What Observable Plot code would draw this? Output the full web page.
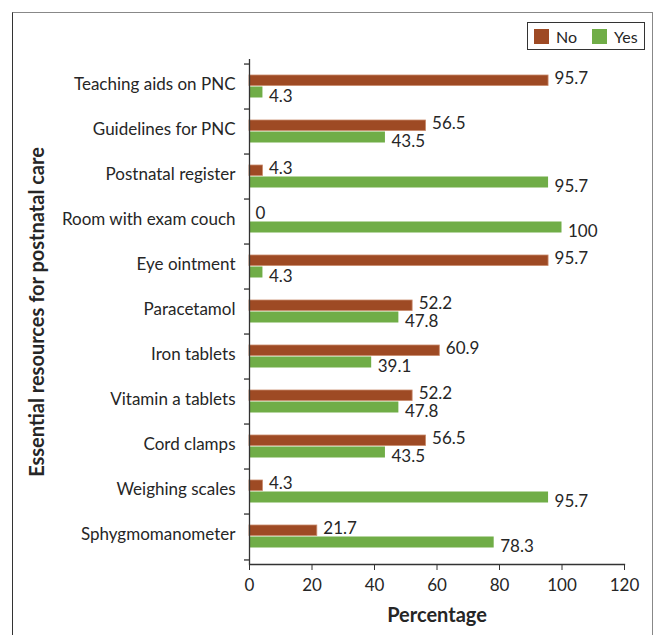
<!DOCTYPE html>
<html>
<head>
<meta charset="utf-8">
<script src="https://cdn.jsdelivr.net/npm/d3@7"></script>
<script src="https://cdn.jsdelivr.net/npm/@observablehq/plot@0.6"></script>
<style>
  html, body { margin: 0; padding: 0; background: #fff; }
  #wrap { position: relative; width: 655px; height: 635px; overflow: hidden; font-family: Lato, "Open Sans", sans-serif; }
  #frame { position: absolute; left: 12px; top: 12px; width: 641px; height: 640px;
           border-top: 1.5px solid #888; border-left: 1.5px solid #333; border-right: 1.5px solid #888; box-sizing: border-box; }
  #chart { position: absolute; left: 0; top: 0; }
  #legend { position: absolute; left: 527px; top: 22px; width: 118px; height: 28px; box-sizing: border-box;
            border: 1.3px solid #333; display: flex; align-items: center; font-size: 16px; color: #262626; background: #fff; }
  #legend .sw { display: inline-block; width: 15px; height: 15px; margin-right: 7px; }
  #legend .item { display: flex; align-items: center; }
  g[aria-label="y-axis label"] text, g[aria-label="x-axis label"] text { font-weight: bold; font-size: 20px; }
</style>
</head>
<body>
<div id="wrap">
  <div id="frame"></div>
  <div id="chart"></div>
  <div id="legend">
    <div class="item" style="margin-left:6px"><span class="sw" style="background:#9E4A24"></span>No</div>
    <div class="item" style="margin-left:15px"><span class="sw" style="background:#70AD47"></span>Yes</div>
  </div>
</div>
<script>
const categories = [
  "Teaching aids on PNC",
  "Guidelines for PNC",
  "Postnatal register",
  "Room with exam couch",
  "Eye ointment",
  "Paracetamol",
  "Iron tablets",
  "Vitamin a tablets",
  "Cord clamps",
  "Weighing scales",
  "Sphygmomanometer"
];
const noValues  = [95.7, 56.5, 4.3, 0, 95.7, 52.2, 60.9, 52.2, 56.5, 4.3, 21.7];
const yesValues = [4.3, 43.5, 95.7, 100, 4.3, 47.8, 39.1, 47.8, 43.5, 95.7, 78.3];
const xTicks = [0, 20, 40, 60, 80, 100, 120];
const seriesNames = ["No", "Yes"];
const seriesColors = ["#9E4A24", "#70AD47"];

const noData = categories.map((c, i) => ({category: c, series: "No", value: noValues[i]}));
const yesData = categories.map((c, i) => ({category: c, series: "Yes", value: yesValues[i]}));

const W = 655, H = 635, mL = 249, mR = 31, mT = 59, mB = 71;
const step = (H - mT - mB) / categories.length;

const chart = Plot.plot({
  width: W, height: H,
  marginLeft: mL, marginRight: mR, marginTop: mT, marginBottom: mB,
  style: {fontFamily: "Lato, 'Open Sans', sans-serif", fontSize: "17px", color: "#262626", background: "transparent", overflow: "visible"},
  x: {domain: [0, 120]},
  y: {domain: categories, padding: 0},
  color: {domain: seriesNames, range: seriesColors},
  marks: [
    Plot.barX(noData, {y: "category", x: "value", fill: "series", stroke: "#c98a6c", strokeWidth: 0.8, insetTop: 11, insetBottom: 23.5}),
    Plot.barX(yesData, {y: "category", x: "value", fill: "series", insetTop: 22.5, insetBottom: 11.5}),
    Plot.text(noData, {y: "category", x: "value", text: d => String(d.value), dx: 6, dy: -8, textAnchor: "start", fill: "#262626", fontSize: 17}),
    Plot.text(yesData, {y: "category", x: "value", text: d => String(d.value), dx: 6, dy: 9.5, textAnchor: "start", fill: "#262626", fontSize: 17}),
    Plot.ruleX([0], {stroke: "#333", strokeWidth: 1.3}),
    Plot.frame({anchor: "bottom", stroke: "#333", strokeWidth: 1.3}),
    Plot.ruleY(categories, {y: d => d, x1: -1.6, x2: 0, dy: -step / 2, stroke: "#333", strokeWidth: 1.3}),
    Plot.ruleY([categories[categories.length - 1]], {y: d => d, x1: -1.6, x2: 0, dy: step / 2, stroke: "#333", strokeWidth: 1.3}),
    Plot.axisY({tickSize: 0, tickPadding: 14, fontSize: 17, dy: -2, label: "Essential resources for postnatal care", labelAnchor: "center", labelOffset: 220, labelArrow: "none"}),
    Plot.axisX({ticks: xTicks, tickSize: 6, tickPadding: 8, fontSize: 17, stroke: "#333", label: "Percentage", labelAnchor: "center", labelOffset: 57, labelArrow: "none"})
  ]
});
document.getElementById("chart").appendChild(chart);
</script>
</body>
</html>
